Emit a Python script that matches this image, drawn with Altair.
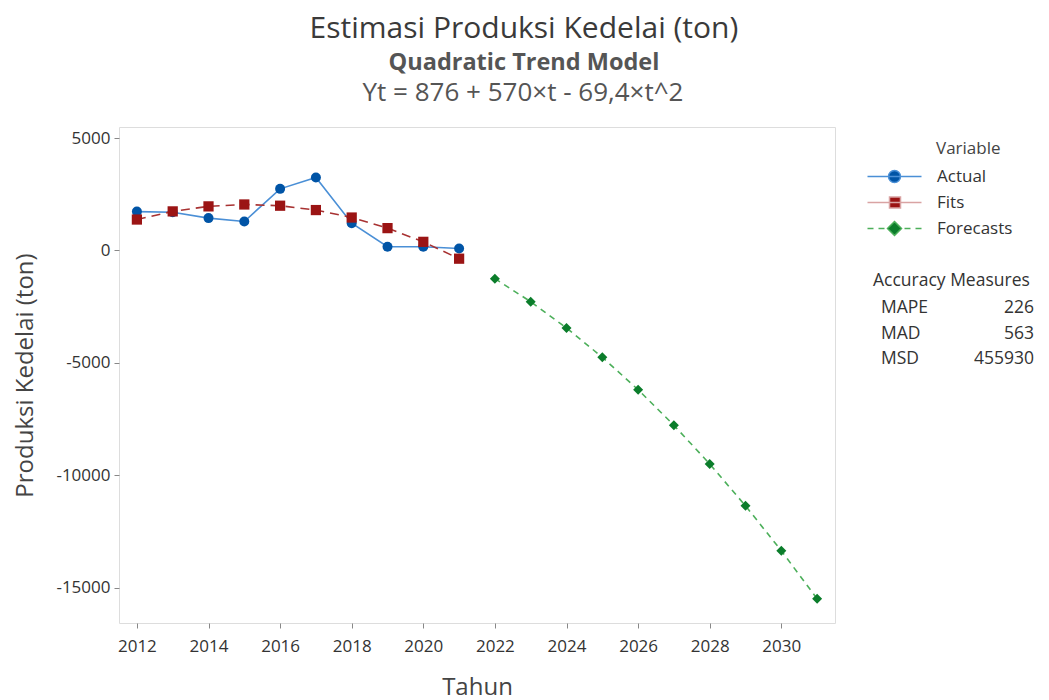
import altair as alt
import pandas as pd

# ---- data ----
years_actual = [2012, 2013, 2014, 2015, 2016, 2017, 2018, 2019, 2020, 2021]
actual = [1730, 1700, 1440, 1290, 2740, 3245, 1210, 165, 165, 90]
fits = [1376.6, 1738.4, 1961.4, 2045.6, 1991.0, 1797.6, 1465.4, 994.4, 384.6, -364.0]
years_fc = [2022, 2023, 2024, 2025, 2026, 2027, 2028, 2029, 2030, 2031]
forecasts = [-1251.4, -2277.6, -3442.6, -4746.4, -6189.0, -7770.4, -9490.6, -11349.6, -13347.4, -15484.0]

series_names = ["Actual", "Fits", "Forecasts"]
acc_labels = ["MAPE", "MAD", "MSD"]
acc_values = ["226", "563", "455930"]

x_ticks = [2012, 2014, 2016, 2018, 2020, 2022, 2024, 2026, 2028, 2030]
y_ticks = [-15000, -10000, -5000, 0, 5000]

FONT = "Open Sans"
W, H = 716, 496

df_act = pd.DataFrame({"Tahun": years_actual, "val": actual})
df_fit = pd.DataFrame({"Tahun": years_actual, "val": fits})
df_fc = pd.DataFrame({"Tahun": years_fc, "val": forecasts})

xs = alt.Scale(domain=[2011.5, 2031.5], nice=False, zero=False)
ys = alt.Scale(domain=[-16560, 5490], nice=False, zero=False)

x_enc = alt.X("Tahun:Q", scale=xs, title="Tahun",
              axis=alt.Axis(values=x_ticks, format="d", grid=False, domain=False,
                            tickSize=5, tickColor="#888", labelFontSize=17, labelColor="#333",
                            labelPadding=10, titleFontSize=24, titleFontWeight="normal",
                            titleColor="#444", titlePadding=21, labelFont=FONT, titleFont=FONT))
y_enc = alt.Y("val:Q", scale=ys, title="Produksi Kedelai (ton)",
              axis=alt.Axis(values=y_ticks, format="d", grid=False, domain=False,
                            labelExpr="replace(datum.label, '\u2212', '-')",
                            tickSize=5, tickColor="#888", labelFontSize=17, labelColor="#333",
                            labelPadding=4, titleFontSize=24, titleFontWeight="normal",
                            titleColor="#444", titlePadding=18, labelFont=FONT, titleFont=FONT))

act_line = alt.Chart(df_act).mark_line(color="#4a8fd6", strokeWidth=1.6).encode(x=x_enc, y=y_enc)
act_pts = alt.Chart(df_act).mark_point(filled=True, shape="circle", size=100, color="#0054a6", opacity=1).encode(x="Tahun:Q", y="val:Q")
fit_line = alt.Chart(df_fit).mark_line(color="#a83232", strokeWidth=1.6, strokeDash=[9, 6]).encode(x="Tahun:Q", y="val:Q")
fit_pts = alt.Chart(df_fit).mark_point(filled=True, shape="square", size=105, color="#9b1414", opacity=1).encode(x="Tahun:Q", y="val:Q")
fc_line = alt.Chart(df_fc).mark_line(color="#4caf5a", strokeWidth=1.6, strokeDash=[6, 5]).encode(x="Tahun:Q", y="val:Q")
fc_pts = alt.Chart(df_fc).mark_point(filled=True, shape="diamond", size=100, color="#0b7d2b", opacity=1).encode(x="Tahun:Q", y="val:Q")

# ---- legend (native legend with custom line+marker symbols) ----
sym_paths = [
    "M-77,0L-23,0M-44,0A6,6,0,1,1,-56,0A6,6,0,1,1,-44,0Z",
    "M-77,0L-23,0M-55,-5.5L-44,-5.5L-44,5.5L-55,5.5Z",
    "M-77,0L-71,0M-66,0L-60,0M-40,0L-34,0M-29,0L-23,0M-50,-7L-43,0L-50,7L-57,0Z",
]
marker_cols = ["#0054a6", "#9b1414", "#0b7d2b"]
line_cols = ["#4a8fd6", "#d9a3a3", "#4caf5a"]

df_leg = pd.DataFrame({"var": series_names})
legend_layer = alt.Chart(df_leg).mark_point(filled=True, strokeWidth=1.5, opacity=1).encode(
    shape=alt.Shape("var:N", scale=alt.Scale(domain=series_names, range=sym_paths),
                    legend=alt.Legend(title="Variable", orient="none", legendX=817, legendY=14,
                                      symbolSize=4, symbolStrokeWidth=1.5, symbolOpacity=1,
                                      labelOffset=alt.ExprRef("-16"),
                                      labelFontSize=17, labelColor="#333", labelFont=FONT,
                                      titleFontSize=17, titleFontWeight="normal", titleColor="#444",
                                      titleFont=FONT, titlePadding=10, rowPadding=7, padding=0)),
    fill=alt.Fill("var:N", scale=alt.Scale(domain=series_names, range=marker_cols), legend=alt.Legend(title="Variable")),
    stroke=alt.Stroke("var:N", scale=alt.Scale(domain=series_names, range=line_cols), legend=alt.Legend(title="Variable")),
).transform_filter("datum.var == 'none'")

# ---- accuracy measures and equation text ----
df_acc = pd.DataFrame({"lab": acc_labels, "v": acc_values, "row": [0, 1, 2]})
acc_title = alt.Chart(pd.DataFrame({"t": ["Accuracy Measures"]})).mark_text(
    align="left", baseline="middle", fontSize=17.5, font=FONT, color="#333"
).encode(text="t:N", x=alt.value(754), y=alt.value(154))
acc_lab = alt.Chart(df_acc).mark_text(
    align="left", baseline="middle", fontSize=17.5, font=FONT, color="#333"
).encode(text="lab:N", x=alt.value(762), y=alt.YValue(alt.ExprRef("181 + datum.row * 25.6")))
acc_val = alt.Chart(df_acc).mark_text(
    align="right", baseline="middle", fontSize=17.5, font=FONT, color="#333"
).encode(text="v:N", x=alt.value(915), y=alt.YValue(alt.ExprRef("181 + datum.row * 25.6")))

eq_text = alt.Chart(pd.DataFrame({"t": ["Yt = 876 + 570×t - 69,4×t^2"]})).mark_text(
    align="center", baseline="middle", fontSize=26, font=FONT, color="#555"
).encode(text="t:N", x=alt.value(404), y=alt.value(-34))

chart = alt.layer(
    act_line, act_pts, fit_line, fit_pts, fc_line, fc_pts, legend_layer,
    acc_title, acc_lab, acc_val, eq_text
).properties(
    width=W, height=H,
    padding={"left": 5, "top": 5, "right": 5, "bottom": 5},
    title=alt.TitleParams(
        text="Estimasi Produksi Kedelai (ton)", subtitle="Quadratic Trend Model",
        fontSize=30, fontWeight="normal", color="#3a3a3a", font=FONT,
        subtitleFontSize=23.5, subtitleFontWeight="bold", subtitleColor="#555", subtitleFont=FONT,
        subtitlePadding=7, anchor="middle", frame="bounds", offset=6,
    ),
).configure_view(stroke="#a6a6a6", strokeWidth=1).configure(font=FONT)

chart.save("out.html", embed_options={"renderer": "svg", "actions": False})
